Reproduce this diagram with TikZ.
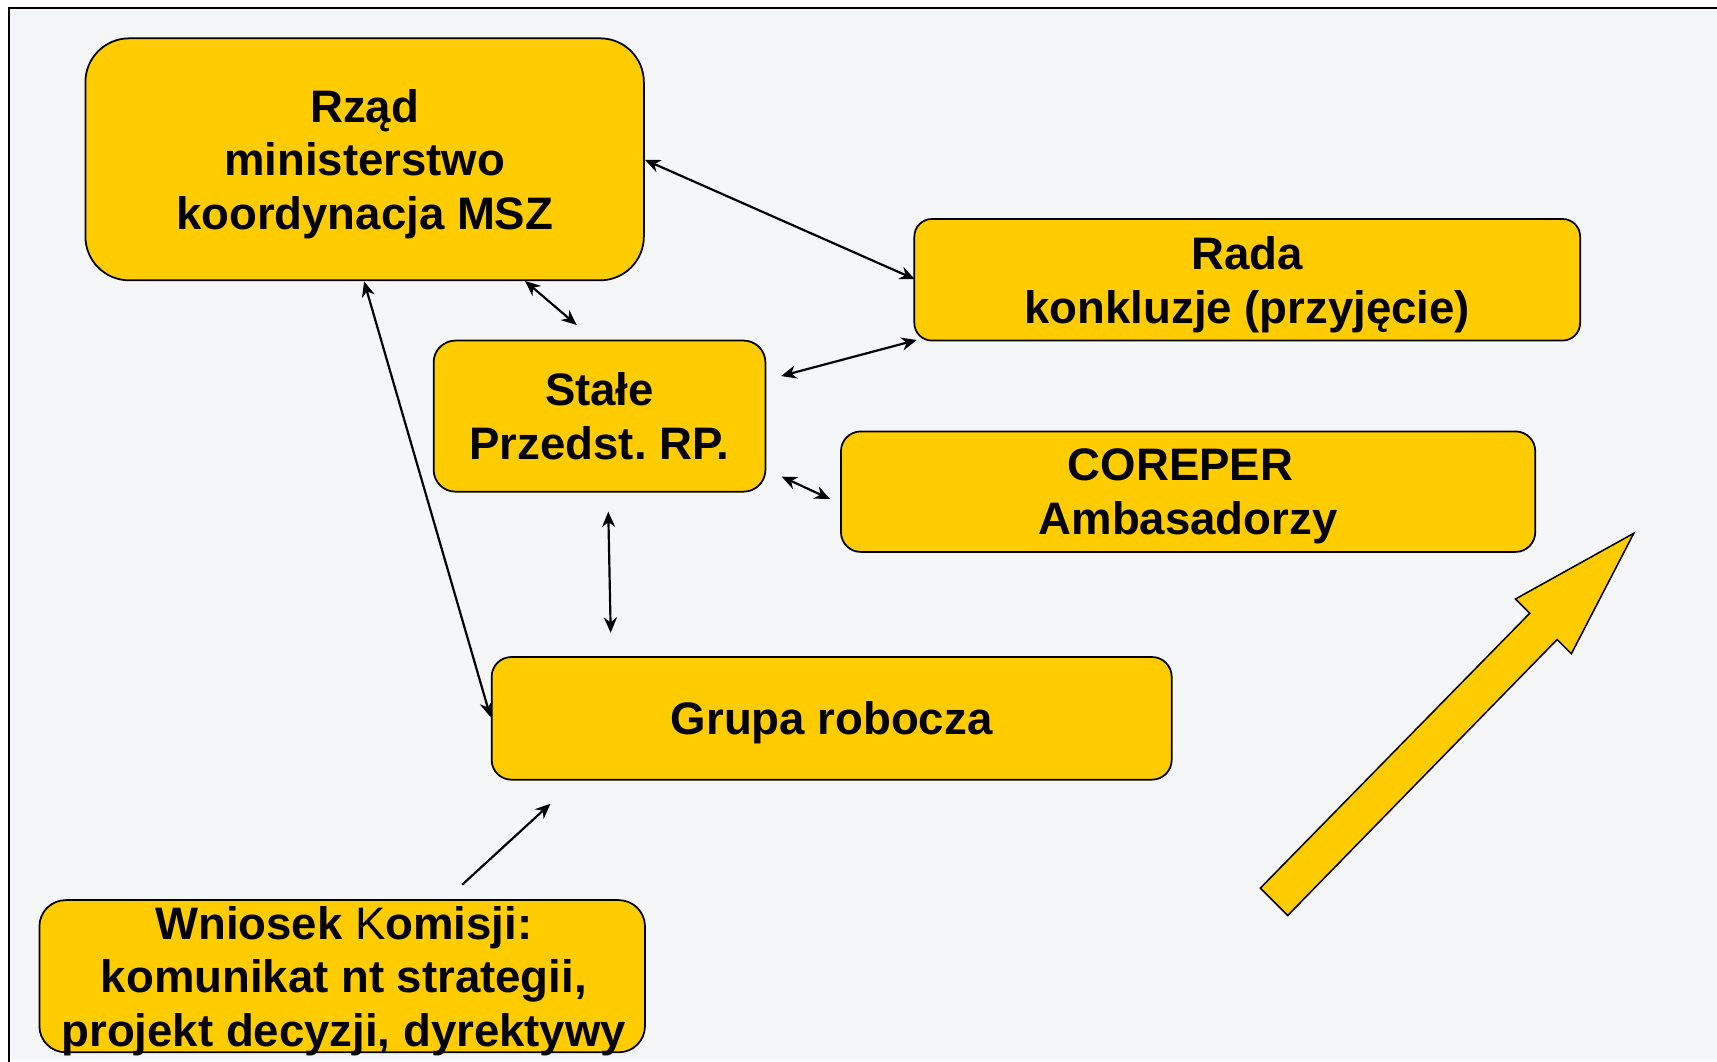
\documentclass[tikz,border=0pt]{standalone}
\usepackage{fontspec}
\setmainfont{Liberation Sans}
\usetikzlibrary{arrows.meta}
\definecolor{boxyellow}{RGB}{255,204,0}
\definecolor{bgsky}{RGB}{245,246,248}
\frenchspacing
\begin{document}
\begin{tikzpicture}[x=0.5pt,y=-0.5pt,
  box/.style={draw=black, line width=0.8pt, fill=boxyellow, inner sep=0pt, text depth=0pt,
    align=center, font=\fontsize{20.8}{24.5}\selectfont\bfseries\frenchspacing},
  boxtext/.style={inner sep=0pt, align=center, font=\fontsize{20.8}{24.5}\selectfont\bfseries},
  link/.style={line width=1pt, {Stealth[length=7pt,width=6pt]}-{Stealth[length=7pt,width=6pt]}},
  onelink/.style={line width=1pt, -{Stealth[length=7pt,width=6pt]}},
  bigarrow/.style={draw=black, line width=0.7pt, fill=boxyellow, line join=miter}
]
\useasboundingbox (0,0) rectangle (1568,969);
\fill[white] (0,0) rectangle (1568,969);
\fill[bgsky] (8,7.5) rectangle (1568,969);
\draw[line width=1pt] (8,975) -- (8,7.5) -- (1575,7.5);

% boxes
\node[box, minimum width=255pt, minimum height=110.5pt, rounded corners=20pt] (rzad) at (333,145.5)
  {Rząd\\ministerstwo\\koordynacja MSZ};
\node[box, minimum width=304pt, minimum height=55.5pt, rounded corners=8pt] (rada) at (1139,255.5)
  {Rada\\konkluzje (przyjęcie)};
\node[box, minimum width=151.5pt, minimum height=69pt, rounded corners=10pt] (stale) at (547.5,380)
  {Stałe\\Przedst. RP.};
\node[box, minimum width=317pt, minimum height=55pt, rounded corners=9pt] (coreper) at (1085,449)
  {COREPER\hspace*{7pt}\\Ambasadorzy};
\node[box, minimum width=310.5pt, minimum height=56pt, rounded corners=9pt] (grupa) at (759.5,656)
  {Grupa robocza};
\node[box, minimum width=276.5pt, minimum height=69.5pt, rounded corners=12pt] (wniosek) at (312.5,891.5) {};
\node[boxtext, anchor=north] (wntext) at (314,827)
  {Wniosek {\mdseries K}omisji:\\komunikat nt strategii,\\projekt decyzji, dyrektywy};

% connector end points
\coordinate (rzadR) at (589,146);
\coordinate (radaL) at (835.5,255);
\coordinate (rzadB) at (479.5,256.6);
\coordinate (staleT) at (526.6,296.8);
\coordinate (staleR1) at (713.3,343.4);
\coordinate (radaB) at (837.2,310.5);
\coordinate (staleR2) at (713.9,435.3);
\coordinate (corL) at (758,455.7);
\coordinate (staleB) at (555.5,467.3);
\coordinate (grupaT) at (557.7,577.8);
\coordinate (rzadB2) at (332.5,257);
\coordinate (grupaL) at (448,655);
\coordinate (wnT) at (422,808);
\coordinate (grupaB) at (502.7,734);

\draw[link] (rzadR) -- (radaL);
\draw[link] (rzadB) -- (staleT);
\draw[link] (staleR1) -- (radaB);
\draw[link] (staleR2) -- (corL);
\draw[link] (staleB) -- (grupaT);
\draw[link] (rzadB2) -- (grupaL);
\draw[onelink] (wnT) -- (grupaB);

% big arrow
\draw[bigarrow] (1151,811) -- (1397,560) -- (1384,547) -- (1492,487) -- (1435,597) -- (1422,584) -- (1176,836) -- cycle;
\end{tikzpicture}
\end{document}
